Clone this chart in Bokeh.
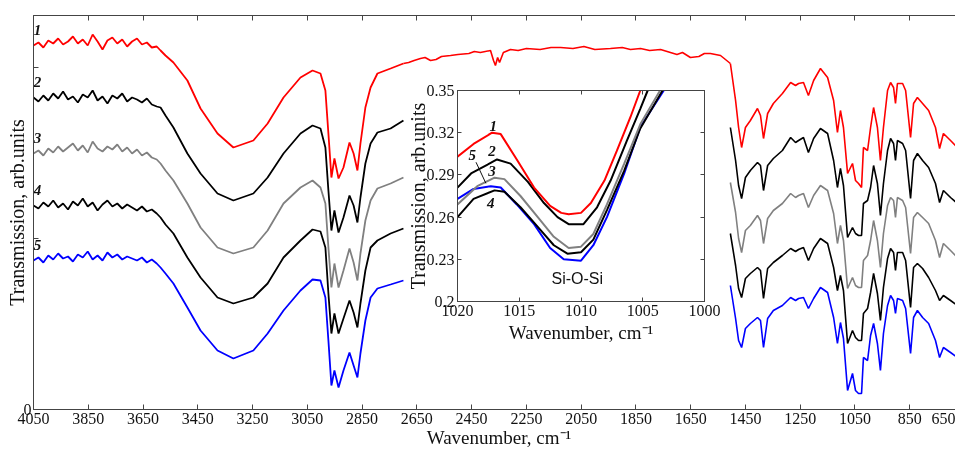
from bokeh.plotting import figure
from bokeh.models import Range1d, FixedTicker, LinearAxis, Label
from bokeh.layouts import column
from bokeh.embed import file_html
from bokeh.resources import INLINE
from bokeh.core.properties import value

# ---------------- main spectrum data (wavenumber, transmission in arb. units) ----------------
wn_left = [4050, 4032, 4014, 3996, 3978, 3960, 3942, 3924, 3906, 3888, 3870, 3852, 3834,
           3816, 3798, 3780, 3762, 3744, 3726, 3708, 3690, 3672, 3654, 3636, 3618, 3600,
           3586, 3568, 3539, 3488, 3440, 3378, 3320, 3247, 3195, 3137, 3075, 3031, 3002,
           2984, 2973, 2962, 2951, 2936, 2918, 2896, 2881, 2867, 2856, 2838, 2819, 2794,
           2746, 2699]

s1_left = [364, 367, 362, 369, 366, 371, 365, 368, 373, 366, 370, 364, 375, 368, 360, 369,
           372, 366, 370, 363, 368, 371, 365, 367, 362, 363,
           359, 354, 347, 329, 301, 276, 262, 269, 286, 312, 332, 339, 336, 319, 276, 232,
           251, 231, 242, 267, 256, 239, 266, 302, 322, 336, 341, 346]
s2_left = [312, 308, 314, 309, 316, 311, 318, 310, 313, 307, 315, 312, 319, 309, 313, 306,
           314, 311, 316, 308, 312, 310, 307, 311, 305, 303,
           302, 294, 282, 256, 236, 216, 209, 216, 232, 256, 276, 284, 281, 262, 219, 179,
           199, 177, 192, 214, 204, 187, 212, 246, 266, 277, 281, 289]
s3_left = [256, 259, 254, 261, 257, 263, 258, 262, 266, 259, 264, 257, 268, 261, 258, 263,
           260, 265, 258, 262, 256, 260, 254, 257, 252, 250,
           246, 239, 229, 206, 182, 162, 156, 162, 179, 206, 222, 229, 222, 206, 162, 122,
           146, 122, 139, 161, 147, 129, 156, 189, 209, 221, 226, 232]
s4_left = [204, 201, 207, 203, 209, 202, 206, 200, 208, 204, 211, 203, 207, 199, 205, 209,
           203, 206, 201, 205, 202, 199, 203, 198, 200, 196,
           192, 185, 176, 152, 132, 112, 106, 112, 126, 152, 169, 180, 178, 162, 116, 76,
           96, 76, 91, 109, 97, 82, 106, 139, 162, 169, 176, 181]
s5_left = [149, 152, 147, 154, 150, 156, 151, 153, 148, 155, 152, 158, 150, 154, 149, 157,
           152, 155, 150, 153, 151, 149, 152, 147, 150, 146,
           142, 136, 126, 102, 79, 59, 51, 59, 76, 99, 119, 130, 129, 112, 69, 24,
           39, 22, 39, 57, 44, 32, 56, 89, 112, 121, 125, 129]

wn_mid = [2699, 2680, 2660, 2637, 2620, 2600, 2580, 2560, 2527, 2500, 2460, 2440, 2418,
          2381, 2370, 2363, 2355, 2348, 2334, 2308, 2280, 2250, 2200, 2160, 2125, 2080,
          2040, 2000, 1943, 1900, 1870, 1833, 1800, 1760, 1724, 1700, 1680, 1651, 1620,
          1600, 1578, 1541, 1505]
s1_mid = [346, 347, 349, 351, 352, 349, 350, 353, 354, 355, 356, 358, 357, 359, 349, 344,
          352, 347, 357, 360, 359, 361, 360, 362, 362, 361, 363, 360, 361, 362, 360, 361,
          359, 360, 357, 355, 357, 352, 353, 356, 356, 354, 346]

wn_right = [1505, 1486, 1475, 1464, 1450, 1432, 1406, 1395, 1384, 1369, 1348, 1315, 1285,
            1267, 1256, 1238, 1220, 1201, 1176, 1150, 1128, 1114, 1103, 1092, 1077, 1059,
            1048, 1037, 1026, 1019, 1004, 993, 982, 968, 957, 946, 931, 920, 909, 902, 895,
            876, 865, 847, 836, 822, 803, 781, 756, 741, 727, 701, 676, 665, 654, 650]
s1_right = [346, 309, 282, 262, 282, 289, 301, 294, 271, 296, 306, 316, 327, 324, 326, 327,
            314, 329, 341, 332, 309, 277, 299, 282, 236, 246, 229, 226, 222, 262, 259, 282,
            302, 282, 249, 282, 319, 327, 322, 306, 326, 326, 319, 272, 306, 312, 306, 299,
            282, 261, 276, 269, 262, 249, 256, 252]
s2_right = [282, 249, 224, 211, 232, 239, 247, 244, 219, 244, 251, 259, 272, 267, 269, 272,
            257, 271, 281, 276, 249, 222, 241, 224, 172, 182, 176, 174, 174, 206, 209, 222,
            244, 226, 194, 226, 259, 271, 266, 249, 269, 266, 259, 211, 249, 256, 249, 242,
            226, 207, 219, 212, 206, 201, 199, 197]
s3_right = [227, 197, 171, 157, 179, 184, 194, 189, 166, 191, 199, 206, 216, 212, 214, 216,
            202, 214, 224, 219, 196, 166, 184, 169, 121, 132, 124, 122, 122, 149, 154, 169,
            189, 169, 142, 176, 204, 212, 209, 192, 212, 209, 202, 156, 192, 197, 192, 186,
            169, 152, 166, 159, 152, 147, 146, 144]
s4_right = [176, 144, 121, 112, 131, 136, 142, 139, 111, 141, 147, 154, 161, 158, 160, 162,
            149, 161, 171, 166, 142, 119, 134, 119, 66, 79, 72, 69, 69, 96, 101, 117,
            136, 116, 89, 122, 151, 161, 157, 139, 157, 157, 149, 102, 142, 146, 141, 132,
            119, 109, 114, 109, 104, 97, 99, 96]
s5_right = [124, 91, 69, 62, 81, 86, 92, 89, 62, 91, 99, 104, 112, 109, 111, 112,
            101, 111, 122, 117, 92, 66, 87, 71, 19, 36, 19, 16, 16, 52, 49, 74,
            86, 66, 39, 76, 104, 114, 109, 96, 111, 109, 101, 56, 92, 99, 92, 86,
            69, 52, 62, 57, 52, 47, 49, 47]

series_names = ["1", "2", "3", "4", "5"]
colors = ["#ff0000", "#000000", "#808080", "#000000", "#0000ff"]

x_ticks = [4050, 3850, 3650, 3450, 3250, 3050, 2850, 2650, 2450, 2250, 2050, 1850, 1650,
           1450, 1250, 1050, 850, 650]
y_ticks = [0, 171, 342]
y_tick_labels = ["0", "", ""]

# ---------------- inset data (Si-O-Si band) ----------------
ins_x1 = [1020, 1018.7, 1017.2, 1016.5, 1015.2, 1013.8, 1012.5, 1011.6, 1011.0, 1010.0, 1009.2, 1008.1, 1007.1, 1006.0, 1005.2, 1004.6]
ins_y1 = [0.303, 0.312, 0.320, 0.319, 0.301, 0.281, 0.268, 0.263, 0.262, 0.263, 0.270, 0.286, 0.307, 0.331, 0.350, 0.362]
ins_x2 = [1020, 1018.9, 1016.8, 1015.7, 1014.3, 1013.0, 1011.9, 1011.0, 1009.8, 1008.7, 1007.6, 1006.3, 1005.2, 1004.6, 1004.2]
ins_y2 = [0.281, 0.291, 0.301, 0.298, 0.285, 0.270, 0.260, 0.255, 0.255, 0.267, 0.286, 0.314, 0.337, 0.350, 0.360]
ins_x3 = [1020, 1018.4, 1017.0, 1016.2, 1014.9, 1013.5, 1012.2, 1011.0, 1010.0, 1009.0, 1007.9, 1006.5, 1005.2, 1003.6, 1003.2]
ins_y3 = [0.269, 0.282, 0.288, 0.287, 0.275, 0.260, 0.246, 0.238, 0.239, 0.248, 0.269, 0.298, 0.326, 0.350, 0.357]
ins_x4 = [1020, 1018.7, 1017.0, 1016.2, 1014.9, 1013.5, 1012.2, 1011.1, 1010.0, 1009.0, 1007.9, 1006.5, 1005.2, 1003.4, 1003.0]
ins_y4 = [0.260, 0.273, 0.279, 0.278, 0.267, 0.253, 0.240, 0.234, 0.235, 0.244, 0.265, 0.293, 0.323, 0.350, 0.357]
ins_x5 = [1020, 1018.7, 1017.3, 1016.5, 1015.2, 1013.8, 1012.5, 1011.4, 1010.0, 1009.0, 1007.9, 1006.5, 1005.2, 1003.3, 1002.9]
ins_y5 = [0.273, 0.280, 0.282, 0.281, 0.269, 0.255, 0.238, 0.230, 0.229, 0.240, 0.260, 0.291, 0.324, 0.350, 0.357]

ins_x_ticks = [1020, 1015, 1010, 1005, 1000]
ins_y_ticks = [0.2, 0.23, 0.26, 0.29, 0.32, 0.35]
ins_y_tick_labels = ["0.2", "0.23", "0.26", "0.29", "0.32", "0.35"]

# annotation positions in the inset (data coordinates)
ins_label_x = [1017.1, 1017.2, 1017.2, 1017.3, 1018.8]
ins_label_y = [0.325, 0.307, 0.293, 0.270, 0.304]
ins_label_txt = ["1", "2", "3", "4", "5"]

SERIF = "Liberation Serif"
AXIS_COL = "#444444"
TEXT_COL = "#111111"


def style_axis(ax, font_size, label_size):
    ax.axis_line_color = AXIS_COL
    ax.major_tick_line_color = AXIS_COL
    ax.major_tick_in = 5
    ax.major_tick_out = 0
    ax.minor_tick_line_color = None
    ax.major_label_text_font = SERIF
    ax.major_label_text_font_size = font_size
    ax.major_label_text_color = TEXT_COL
    ax.axis_label_text_font = SERIF
    ax.axis_label_text_font_style = "normal"
    ax.axis_label_text_font_size = label_size
    ax.axis_label_text_color = TEXT_COL


def tick_only_axis(ticks, tick_in):
    ax = LinearAxis(ticker=FixedTicker(ticks=ticks))
    ax.axis_line_color = AXIS_COL
    ax.major_tick_line_color = AXIS_COL
    ax.major_tick_in = tick_in
    ax.major_tick_out = 0
    ax.minor_tick_line_color = None
    ax.major_label_text_color = None
    ax.major_label_standoff = 0
    return ax


# ---------------- main figure ----------------
p = figure(frame_width=931, frame_height=394, x_range=Range1d(4050, 650), y_range=Range1d(0, 394),
           output_backend="svg", toolbar_location=None,
           min_border_left=0, min_border_right=14, min_border_top=7, min_border_bottom=0)
p.grid.visible = False
p.outline_line_color = AXIS_COL
p.background_fill_color = "white"

p.xaxis.ticker = FixedTicker(ticks=x_ticks)
p.yaxis.ticker = FixedTicker(ticks=y_ticks)
p.yaxis.major_label_overrides = dict(zip(y_ticks, y_tick_labels))
style_axis(p.xaxis[0], "16px", "19px")
style_axis(p.yaxis[0], "16px", "20px")
p.xaxis.axis_label = "Wavenumber, cm⁻¹"
p.yaxis.axis_label = "Transmission, arb.units"
p.xaxis.major_label_standoff = 3
p.xaxis.axis_label_standoff = 0
p.yaxis.major_label_standoff = 2
p.yaxis.axis_label_standoff = -7

p.add_layout(tick_only_axis(x_ticks, 5), "above")
p.add_layout(tick_only_axis(y_ticks, 5), "right")

left_series = [s1_left, s2_left, s3_left, s4_left, s5_left]
right_series = [s1_right, s2_right, s3_right, s4_right, s5_right]
for ys, c in zip(left_series, colors):
    p.line(wn_left, ys, line_color=c, line_width=1.8)
p.line(wn_mid, s1_mid, line_color=colors[0], line_width=1.6)
for ys, c in zip(right_series, colors):
    p.line(wn_right, ys, line_color=c, line_width=1.6)

# curve numbers placed just above each curve's start
p.text(x=[wn_left[1]] * 5, y=[s[0] for s in left_series], text=series_names,
       y_offset=-16, x_offset=-1, text_align="center", text_baseline="middle",
       text_font=value(SERIF), text_font_style="bold italic", text_font_size="15px",
       text_color=TEXT_COL)

# ---------------- inset figure ----------------
inset = figure(frame_width=247, frame_height=211, x_range=Range1d(1020, 1000),
               y_range=Range1d(0.2, 0.35), output_backend="svg", toolbar_location=None,
               min_border_left=0, min_border_right=18, min_border_top=10, min_border_bottom=0,
               border_fill_alpha=0.0,
               styles={"position": "absolute", "left": "424px", "top": "72px", "z-index": "10"})
inset.grid.visible = False
inset.outline_line_color = AXIS_COL
inset.xaxis.ticker = FixedTicker(ticks=ins_x_ticks)
inset.yaxis.ticker = FixedTicker(ticks=ins_y_ticks)
inset.yaxis.major_label_overrides = dict(zip(ins_y_ticks, ins_y_tick_labels))
style_axis(inset.xaxis[0], "16px", "19px")
style_axis(inset.yaxis[0], "16px", "20px")
inset.xaxis.major_tick_in = 4
inset.yaxis.major_tick_in = 4
inset.xaxis.axis_label = "Wavenumber, cm⁻¹"
inset.yaxis.axis_label = "Transmission, arb.units"
inset.xaxis.major_label_standoff = 3
inset.xaxis.axis_label_standoff = 3
inset.yaxis.major_label_standoff = 3
inset.yaxis.axis_label_standoff = -5

inset.add_layout(tick_only_axis(ins_x_ticks, 4), "above")
inset.add_layout(tick_only_axis(ins_y_ticks, 4), "right")

ins_xs = [ins_x1, ins_x2, ins_x3, ins_x4, ins_x5]
ins_ys = [ins_y1, ins_y2, ins_y3, ins_y4, ins_y5]
for i in [4, 3, 2, 1, 0]:
    inset.line(ins_xs[i], ins_ys[i], line_color=colors[i], line_width=2)

inset.text(x=ins_label_x, y=ins_label_y, text=ins_label_txt, text_align="center",
           text_baseline="middle", text_font=value(SERIF), text_font_style="bold italic",
           text_font_size="15px", text_color=TEXT_COL)
inset.segment(x0=[1018.5], y0=[0.299], x1=[1017.7], y1=[0.284], line_color=TEXT_COL, line_width=1)
inset.add_layout(Label(x=1010.3, y=0.216, text="Si-O-Si", text_align="center",
                       text_baseline="middle", text_font="Liberation Sans",
                       text_font_size="16px", text_color=TEXT_COL))

layout = column(p, inset, styles={"position": "fixed", "left": "-21px", "top": "8px"})
open("out.html", "w").write(file_html(layout, INLINE))
